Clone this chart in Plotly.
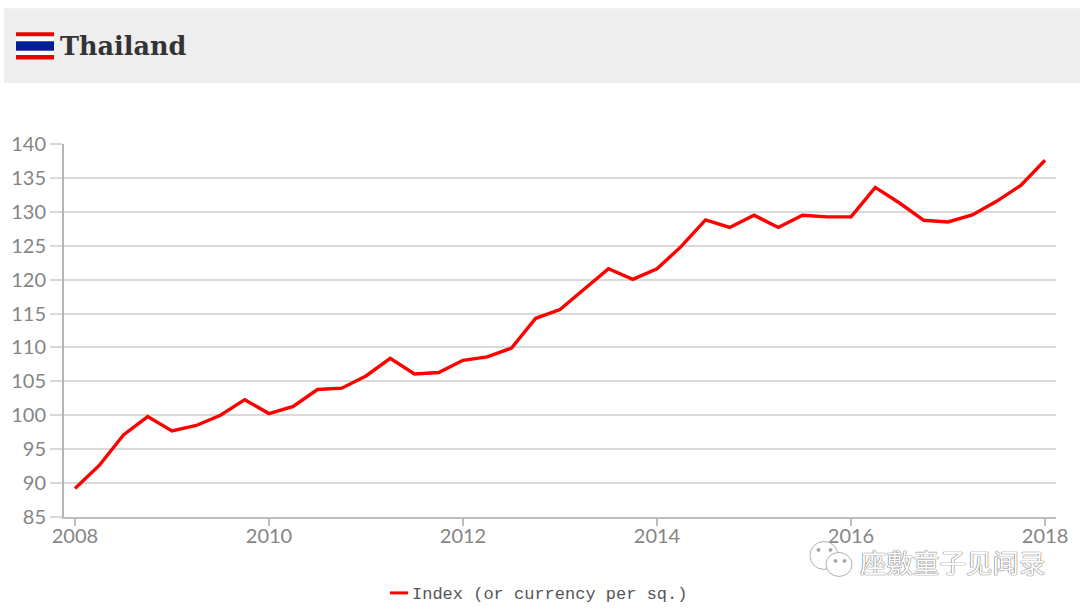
import plotly.graph_objects as go

quarters = [2008.0, 2008.25, 2008.5, 2008.75, 2009.0, 2009.25, 2009.5, 2009.75,
            2010.0, 2010.25, 2010.5, 2010.75, 2011.0, 2011.25, 2011.5, 2011.75,
            2012.0, 2012.25, 2012.5, 2012.75, 2013.0, 2013.25, 2013.5, 2013.75,
            2014.0, 2014.25, 2014.5, 2014.75, 2015.0, 2015.25, 2015.5, 2015.75,
            2016.0, 2016.25, 2016.5, 2016.75, 2017.0, 2017.25, 2017.5, 2017.75, 2018.0]
index_values = [89.2, 92.6, 97.1, 99.8, 97.7, 98.5, 100.0, 102.3,
                100.25, 101.3, 103.8, 104.0, 105.8, 108.4, 106.1, 106.3,
                108.1, 108.6, 109.9, 114.3, 115.6, 118.6, 121.6, 120.05,
                121.6, 124.9, 128.8, 127.7, 129.5, 127.7, 129.5, 129.25,
                129.25, 133.6, 131.3, 128.75, 128.5, 129.55, 131.55, 133.9, 137.6]
x_ticks = [2008, 2010, 2012, 2014, 2016, 2018]
y_ticks = [85, 90, 95, 100, 105, 110, 115, 120, 125, 130, 135, 140]
series_name = "Index (or currency per sq.)"
title_text = "Thailand"
watermark = "座敷童子见闻录"

W, H = 1080, 610
L, R, T, B = 64, 1056, 144, 517.5

def px(v):
    return (v - L) / (R - L)

def py(v):
    return (B - v) / (B - T)

def rect(x0, y0, x1, y1, color):
    return dict(type="rect", xref="paper", yref="paper", x0=px(x0), x1=px(x1),
                y0=py(y1), y1=py(y0), fillcolor=color, line_width=0, layer="below")

def bubble(x0, y0, x1, y1, fill="white"):
    return dict(type="circle", xref="paper", yref="paper", x0=px(x0), x1=px(x1),
                y0=py(y1), y1=py(y0), fillcolor=fill,
                line=dict(color="#b0b0b0", width=1), layer="above")

fig = go.Figure(go.Scatter(x=quarters, y=index_values, mode="lines", name=series_name,
                           line=dict(color="#ff0000", width=3.4), showlegend=False))

shapes = [
    rect(4, 8, 1080, 83, "#eeeeee"),
    rect(16, 32, 54, 60, "#ffffff"),
    rect(16, 32, 54, 36, "#ee0000"),
    rect(16, 41, 54, 50.5, "#001e96"),
    rect(16, 55, 54, 59.5, "#ee0000"),
    bubble(810, 542, 838, 570),
    bubble(826, 553, 852, 577),
    bubble(817, 549, 820, 552, "#999999"),
    bubble(829, 549, 832, 552, "#999999"),
    bubble(834, 560, 837, 563, "#999999"),
    bubble(843, 560, 846, 563, "#999999"),
    dict(type="line", xref="paper", yref="paper", x0=px(390), x1=px(408),
         y0=py(593.5), y1=py(593.5), line=dict(color="#ff0000", width=3)),
]

annotations = [
    dict(text=f"<b>{title_text}</b>", xref="paper", yref="paper", x=px(58), y=py(46),
         xanchor="left", yanchor="middle", showarrow=False,
         font=dict(family="DejaVu Serif", size=25.5, color="#333333")),
    dict(text=series_name, xref="paper", yref="paper", x=px(410), y=py(595),
         xanchor="left", yanchor="middle", showarrow=False,
         font=dict(family="Liberation Mono", size=17, color="#555555")),
    dict(text=watermark, xref="paper", yref="paper", x=px(858), y=py(562.5),
         xanchor="left", yanchor="middle", showarrow=False,
         font=dict(family="Noto Sans CJK SC", size=26.5, color="#ffffff",
                   shadow="0 0 1px #555555, 0 0 1px #555555")),
]

fig.update_layout(
    width=W, height=H, autosize=False,
    margin=dict(l=L, r=W - R, t=T, b=H - B, pad=0),
    paper_bgcolor="white", plot_bgcolor="white",
    shapes=shapes, annotations=annotations,
    font=dict(family="Lato", size=20, color="#858585"),
)
fig.update_xaxes(range=[2007.887, 2018.113], tickmode="array", tickvals=x_ticks,
                 ticktext=[str(v) for v in x_ticks], showgrid=False, zeroline=False,
                 showline=True, linecolor="#bdbdbd", linewidth=2,
                 ticks="outside", ticklen=7, tickcolor="#bdbdbd", tickwidth=1.5,
                 ticklabelstandoff=-7)
fig.update_yaxes(range=[85, 140], tickmode="array", tickvals=y_ticks,
                 ticktext=[str(v) for v in y_ticks], showgrid=True, gridcolor="#d9d9d9",
                 gridwidth=1.5, zeroline=False, showline=True, linecolor="#b5b5b5",
                 linewidth=2, ticks="outside", ticklen=12, tickcolor="#d9d9d9", tickwidth=1.5)

fig.write_html("out.html", post_script="document.body.style.margin='0';",
               config=dict(displayModeBar=False))
